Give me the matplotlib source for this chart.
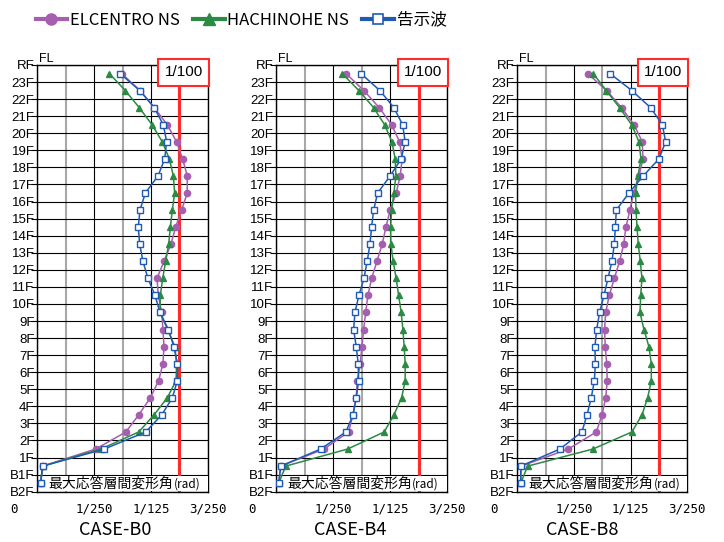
import matplotlib
matplotlib.use("Agg")
import matplotlib.pyplot as plt
import numpy as np
from matplotlib.lines import Line2D
from matplotlib.patches import Rectangle
from matplotlib.transforms import ScaledTranslation

# floor lines, bottom to top
FLOORS = ["B2F", "B1F"] + [f"{i}F" for i in range(1, 24)] + ["RF"]

# story drift angles (x 1e-3 rad), listed from 23F story down to B2F story
CASE_NAMES = ["CASE-B0", "CASE-B4", "CASE-B8"]

ELC_B0 = [5.94, 7.23, 8.24, 9.15, 9.81, 10.23, 10.56, 10.56, 10.16, 9.74, 9.41, 8.92, 8.43,
          8.52, 8.76, 8.85, 8.92, 8.85, 8.54, 7.96, 7.14, 6.24, 4.11, 0.38, 0.23]
HAC_B0 = [5.07, 6.20, 7.18, 8.08, 8.80, 9.30, 9.58, 9.67, 9.51, 9.37, 9.25, 9.04, 8.83,
          8.66, 8.64, 9.18, 9.69, 9.81, 9.77, 9.15, 8.22, 7.14, 4.48, 0.38, 0.23]
KOK_B0 = [5.82, 7.23, 8.24, 8.87, 9.11, 8.97, 8.50, 7.61, 7.23, 7.11, 7.21, 7.44, 7.79,
          8.29, 8.64, 9.23, 9.62, 9.86, 9.86, 9.51, 8.76, 7.63, 4.72, 0.38, 0.23]

ELC_B4 = [4.90, 6.16, 7.23, 8.10, 8.66, 8.84, 8.70, 8.42, 8.00, 7.70, 7.44, 7.07, 6.70,
          6.44, 6.28, 6.14, 6.02, 5.90, 5.69, 5.62, 5.39, 5.09, 3.36, 0.33, 0.19]
HAC_B4 = [4.64, 5.81, 6.84, 7.61, 8.12, 8.35, 8.40, 8.26, 8.10, 8.03, 8.05, 8.21, 8.42,
          8.59, 8.77, 8.89, 8.98, 9.05, 9.05, 8.80, 8.26, 7.58, 5.02, 0.68, 0.19]
KOK_B4 = [5.95, 7.28, 8.26, 8.87, 9.05, 8.77, 8.00, 7.12, 6.84, 6.70, 6.58, 6.39, 6.16,
          5.81, 5.53, 5.44, 5.62, 5.76, 5.79, 5.62, 5.39, 4.90, 3.13, 0.33, 0.19]

ELC_B8 = [4.96, 6.31, 7.36, 8.24, 8.82, 8.87, 8.59, 8.21, 7.95, 7.67, 7.51, 7.22, 6.85,
          6.49, 6.24, 6.16, 6.21, 6.31, 6.35, 6.24, 5.98, 5.58, 3.60, 0.28, 0.24]
HAC_B8 = [5.36, 6.28, 7.22, 8.07, 8.59, 8.73, 8.52, 8.35, 8.38, 8.45, 8.54, 8.68, 8.80,
          8.71, 8.66, 8.94, 9.29, 9.46, 9.46, 9.20, 8.80, 8.09, 5.34, 0.73, 0.24]
KOK_B8 = [6.54, 8.09, 9.41, 10.24, 10.47, 10.00, 8.89, 7.88, 6.99, 6.92, 6.85, 6.68, 6.40,
          6.12, 5.81, 5.60, 5.48, 5.51, 5.44, 5.22, 4.92, 4.56, 3.01, 0.24, 0.24]

X_TICKS = [0, 0.004, 0.008, 0.012]
X_LABELS = ["0", "1/250", "1/125", "3/250"]
LIMIT = 0.01

PURPLE = "#a65eae"
GREEN = "#2b8a43"
BLUE = "#1f5bb5"
RED = "#ff2a2a"

JP = ["Noto Sans CJK JP", "DejaVu Sans"]

fig = plt.figure(figsize=(7.24, 5.42), dpi=100)

positions = [
    [0.0515, 0.0928, 0.2354, 0.7873],
    [0.3812, 0.0928, 0.2366, 0.7873],
    [0.7145, 0.0928, 0.2348, 0.7873],
]
case_x = [115 / 724, 350 / 724, 582 / 724]
panels = [(ELC_B0, HAC_B0, KOK_B0), (ELC_B4, HAC_B4, KOK_B4), (ELC_B8, HAC_B8, KOK_B8)]

story_y = np.arange(len(ELC_B0))[::-1] + 0.5


def draw_panel(ax, elc, hac, kok):
    ax.set_xlim(0, 0.012)
    ax.set_ylim(0, len(FLOORS) - 1)

    # grid: gray at odd 1/500 steps, black at 1/250 steps, black at every floor
    ax.set_xticks(X_TICKS)
    ax.set_xticklabels(X_LABELS, family="DejaVu Sans Mono", fontsize=9)
    ax.set_xticks([0.002, 0.006, 0.010], minor=True)
    ax.set_yticks(np.arange(len(FLOORS)))
    ax.set_yticklabels(FLOORS, family="Liberation Sans", fontsize=9.5)
    ax.grid(True, which="major", color="black", lw=0.8)
    ax.grid(True, which="minor", axis="x", color="#a8a8a8", lw=1.5)
    ax.set_axisbelow(True)
    ax.tick_params(axis="x", which="both", length=0, pad=8)
    ax.tick_params(axis="y", length=4, width=0.8, pad=-2)
    for s in ax.spines.values():
        s.set_linewidth(1.0)

    lbl0 = ax.get_xticklabels()[0]
    lbl0.set_transform(lbl0.get_transform() + ScaledTranslation(-17 / 72, 0, fig.dpi_scale_trans))

    ax.axvline(LIMIT, color=RED, lw=2.2, zorder=2)

    # white band holding the axis caption
    ax.add_patch(Rectangle((0.00075, 0.03), 0.0113, 0.9, transform=ax.transData,
                           facecolor="white", edgecolor="none", zorder=3))
    cap = ax.text(0.0008, 0.47, "最大応答層間変形角", family=JP, fontsize=10,
                  va="center", ha="left", zorder=4)
    ax.annotate("(rad)", xy=(1, 0.5), xycoords=cap, family=JP, fontsize=8.5,
                va="center", ha="left", zorder=4)

    ax.plot(np.array(elc) * 1e-3, story_y, color=PURPLE, lw=1.1, marker="o", ms=4.5, zorder=5)
    ax.plot(np.array(hac) * 1e-3, story_y, color=GREEN, lw=1.1, marker="^", ms=4.5, zorder=6)
    ax.plot(np.array(kok) * 1e-3, story_y, color=BLUE, lw=1.1, marker="s", ms=4,
            mfc="white", mec=BLUE, mew=1.0, zorder=7)

    ax.text(0.0103, 0.9826, "1/100", transform=ax.get_xaxis_transform(),
            family="Liberation Sans", fontsize=11, ha="center", va="center",
            zorder=10, clip_on=False,
            bbox=dict(boxstyle="square,pad=0.4", facecolor="white", edgecolor=RED, lw=1.5))
    ax.text(0.01, 1.0, "FL", transform=ax.transAxes, family="Liberation Sans",
            fontsize=9, ha="left", va="bottom")


for pos, (elc, hac, kok), name, cx in zip(positions, panels, CASE_NAMES, case_x):
    ax = fig.add_axes(pos)
    draw_panel(ax, elc, hac, kok)
    fig.text(cx, 0.022, name, family=JP, fontsize=13, ha="center", va="center")

handles = [
    Line2D([], [], color=PURPLE, lw=3, marker="o", ms=8),
    Line2D([], [], color=GREEN, lw=3, marker="^", ms=8),
    Line2D([], [], color=BLUE, lw=3, marker="s", ms=7, mfc="white", mec=BLUE, mew=1.2),
]
fig.legend(handles, ["ELCENTRO NS", "HACHINOHE NS", "告示波"], loc="center",
           bbox_to_anchor=(241 / 724, 0.963), ncol=3, frameon=False,
           prop={"family": JP, "size": 12}, handlelength=1.9, handletextpad=0.15,
           columnspacing=0.8)

fig.savefig("out.png", dpi=100)
